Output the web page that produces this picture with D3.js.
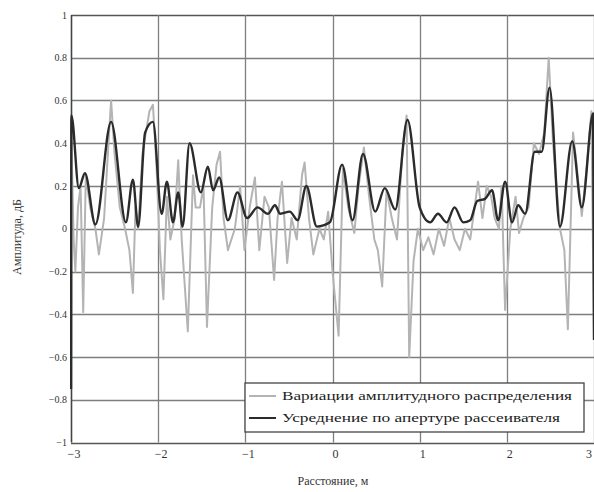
<!DOCTYPE html>
<html>
<head>
<meta charset="utf-8">
<script src="https://cdn.jsdelivr.net/npm/d3@7"></script>
<style>
    body { margin: 0; background: #fff; }
</style>
</head>
<body>
<div id="chartArea"></div>
<script>
// values
var xTicks = [-3, -2, -1, 0, 1, 2, 3];
var yTicks = [-1, -0.8, -0.6, -0.4, -0.2, 0, 0.2, 0.4, 0.6, 0.8, 1];

// averaged over scatterer aperture (dark line)
var meanX = [-3, -2.995, -2.91, -2.84, -2.72, -2.54, -2.37, -2.29, -2.23, -2.15, -2.06, -1.96, -1.90, -1.83, -1.77, -1.72,
    -1.64, -1.51, -1.43, -1.37, -1.30, -1.20, -1.09, -0.98, -0.86, -0.74, -0.66, -0.60, -0.49, -0.40, -0.30, -0.18,
    -0.03, 0.11, 0.23, 0.35, 0.49, 0.60, 0.72, 0.86, 1.00, 1.12, 1.21, 1.31, 1.40, 1.50, 1.58, 1.66, 1.75, 1.83,
    1.90, 1.98, 2.06, 2.13, 2.21, 2.32, 2.40, 2.49, 2.61, 2.75, 2.86, 2.99, 3.0];
var meanY = [-0.75, 0.53, 0.19, 0.26, 0.02, 0.50, 0.03, 0.23, 0.01, 0.45, 0.50, 0.07, 0.22, 0.03, 0.17, 0.01,
    0.40, 0.17, 0.29, 0.18, 0.24, 0.04, 0.17, 0.05, 0.10, 0.07, 0.11, 0.07, 0.08, 0.04, 0.20, 0.01,
    0.03, 0.30, 0.04, 0.35, 0.08, 0.19, 0.09, 0.51, 0.10, 0.03, 0.07, 0.03, 0.10, 0.03, 0.04, 0.13, 0.14, 0.18,
    0.04, 0.22, 0.03, 0.11, 0.07, 0.36, 0.36, 0.66, 0.01, 0.41, 0.10, 0.54, -0.52];

// amplitude distribution variations (light line)
var varX = [-3, -2.97, -2.95, -2.92, -2.89, -2.86, -2.83, -2.78, -2.72, -2.68, -2.62, -2.57, -2.54, -2.50, -2.44, -2.38,
    -2.33, -2.29, -2.26, -2.23, -2.18, -2.10, -2.06, -2.02, -1.98, -1.94, -1.90, -1.86, -1.81, -1.77, -1.73, -1.66,
    -1.60, -1.57, -1.52, -1.48, -1.44, -1.38, -1.33, -1.29, -1.25, -1.20, -1.12, -1.06, -1.01, -0.95, -0.89, -0.84,
    -0.78, -0.73, -0.67, -0.63, -0.58, -0.52, -0.47, -0.41, -0.35, -0.32, -0.27, -0.22, -0.15, -0.10, -0.05, 0.00,
    0.07, 0.12, 0.18, 0.25, 0.30, 0.36, 0.42, 0.48, 0.52, 0.57, 0.62, 0.68, 0.74, 0.80, 0.85, 0.88,
    0.93, 0.98, 1.04, 1.10, 1.16, 1.22, 1.28, 1.34, 1.40, 1.46, 1.52, 1.58, 1.63, 1.67, 1.72, 1.77,
    1.82, 1.86, 1.91, 1.94, 1.98, 2.04, 2.10, 2.14, 2.19, 2.25, 2.31, 2.37, 2.43, 2.48, 2.53, 2.61,
    2.66, 2.70, 2.76, 2.80, 2.86, 2.92, 2.97, 3.0];
var varY = [0.50, -0.05, -0.20, 0.10, 0.20, -0.39, 0.25, 0.10, 0.00, -0.12, 0.05, 0.40, 0.60, 0.35, 0.10, 0.00,
    -0.10, -0.30, 0.10, 0.00, 0.35, 0.55, 0.58, 0.30, -0.10, -0.33, 0.15, -0.05, 0.05, 0.32, -0.05, -0.48,
    0.25, 0.10, 0.10, 0.20, -0.46, 0.10, 0.30, 0.36, 0.05, -0.10, 0.00, 0.20, -0.10, 0.10, 0.24, -0.10,
    0.15, 0.10, -0.24, 0.05, 0.22, -0.16, 0.05, -0.05, 0.25, 0.31, 0.05, -0.12, 0.00, -0.05, 0.08, -0.20,
    -0.50, 0.28, 0.10, -0.02, 0.20, 0.38, 0.15, -0.05, -0.10, -0.27, 0.18, 0.05, -0.05, 0.35, 0.53, -0.60,
    -0.15, 0.00, -0.10, -0.04, -0.12, 0.00, -0.08, 0.05, -0.05, -0.10, 0.00, -0.05, 0.10, 0.22, 0.05, 0.20,
    0.15, 0.05, 0.00, 0.20, -0.38, 0.00, 0.15, -0.02, 0.05, 0.10, 0.40, 0.35, 0.45, 0.80, 0.40, 0.00,
    -0.10, -0.47, 0.45, 0.30, 0.06, 0.30, 0.55, -0.52];

var legendNames = ["Вариации амплитудного распределения", "Усреднение по апертуре рассеивателя"];
var lineColors = ["#b4b4b4", "#2b2b2b"];

var serif = "'Liberation Serif', 'Times New Roman', 'DejaVu Serif', serif";
var width = 594, height = 492;
var margin = {left: 71, right: 0, top: 15, bottom: 50};

var svg = d3.select("#chartArea")
    .append("svg")
    .attr("width", width)
    .attr("height", height)
    .style("font-family", serif)

var x = d3.scaleLinear().domain([-3, 3]).range([margin.left, width - margin.right]);
var y = d3.scaleLinear().domain([-1, 1]).range([height - margin.bottom + 0.5, margin.top]);

svg.append("clipPath").attr("id", "plotClip")
    .append("rect")
    .attr("x", x(-3) - 1).attr("y", y(1) - 1)
    .attr("width", x(3) - x(-3) + 2).attr("height", y(-1) - y(1) + 2)

// grid
svg.append("g")
    .selectAll("line").data(yTicks).enter().append("line")
    .attr("x1", x(-3)).attr("x2", x(3))
    .attr("y1", function(d){ return Math.round(y(d)) + 0.5; })
    .attr("y2", function(d){ return Math.round(y(d)) + 0.5; })
    .attr("stroke", function(d){ return (d == 1 || d == -1) ? "#555" : "#7e7e7e"; })
    .attr("stroke-width", 1.3)

svg.append("g")
    .selectAll("line").data(xTicks).enter().append("line")
    .attr("y1", y(1)).attr("y2", y(-1))
    .attr("x1", function(d){ return Math.round(x(d)) + 0.5; })
    .attr("x2", function(d){ return Math.round(x(d)) + 0.5; })
    .attr("stroke", function(d){ return d == -3 ? "#444" : "#7e7e7e"; })
    .attr("stroke-width", function(d){ return d == -3 ? 1.6 : 1.3; })

// tick labels
function fmt(d) { return d < 0 ? "\u2212" + Math.abs(d) : "" + d; }

svg.append("g")
    .selectAll("text").data(yTicks).enter().append("text")
    .attr("x", x(-3) - 4)
    .attr("y", function(d){ return y(d) + 3.5; })
    .attr("text-anchor", "end")
    .attr("font-size", 10)
    .attr("fill", "#333")
    .text(fmt)

svg.append("g")
    .selectAll("text").data(xTicks).enter().append("text")
    .attr("x", function(d){ return Math.min(x(d) + 3, width - 5); })
    .attr("y", y(-1) + 15)
    .attr("text-anchor", "middle")
    .attr("font-size", 12)
    .attr("fill", "#333")
    .text(fmt)

// axis titles
svg.append("text")
    .attr("transform", "translate(21," + 237 + ") rotate(-90)")
    .attr("text-anchor", "middle")
    .attr("font-size", 12)
    .attr("fill", "#333")
    .text("Амплитуда, дБ")

svg.append("text")
    .attr("x", 333)
    .attr("y", 485)
    .attr("text-anchor", "middle")
    .attr("font-size", 12)
    .attr("fill", "#333")
    .text("Расстояние, м")

// series
var varData = varX.map(function(d, i){ return [d, varY[i]]; });
var meanData = meanX.map(function(d, i){ return [d, meanY[i]]; });

var lineLinear = d3.line()
    .x(function(d){ return x(d[0]); })
    .y(function(d){ return y(d[1]); })

var lineSmooth = d3.line()
    .x(function(d){ return x(d[0]); })
    .y(function(d){ return y(d[1]); })
    .curve(d3.curveMonotoneX)

var plot = svg.append("g").attr("clip-path", "url(#plotClip)");

plot.append("path")
    .attr("d", lineLinear(varData))
    .attr("fill", "none")
    .attr("stroke", lineColors[0])
    .attr("stroke-width", 2)
    .attr("stroke-linejoin", "round")

plot.append("path")
    .attr("d", lineSmooth(meanData))
    .attr("fill", "none")
    .attr("stroke", lineColors[1])
    .attr("stroke-width", 2.4)
    .attr("stroke-linejoin", "round")

// legend
var legend = svg.append("g")
    .attr("transform", "translate(245,383)")

legend.append("rect")
    .attr("width", 339)
    .attr("height", 49)
    .attr("fill", "#fff")
    .attr("stroke", "#444")
    .attr("stroke-width", 1.3)

var rows = legend.selectAll(".legrow").data(legendNames).enter().append("g")
    .attr("class", "legrow")
    .attr("transform", function(d, i){ return "translate(0," + (13 + i * 22) + ")"; })

rows.append("line")
    .attr("x1", 4).attr("x2", 31)
    .attr("stroke", function(d, i){ return lineColors[i]; })
    .attr("stroke-width", 2)

rows.append("text")
    .attr("x", 37)
    .attr("y", 4)
    .attr("font-size", 13)
    .attr("fill", "#222")
    .attr("textLength", function(d, i){ return i == 0 ? 290 : 278; })
    .attr("lengthAdjust", "spacingAndGlyphs")
    .text(function(d){ return d; })
</script>
</body>
</html>
